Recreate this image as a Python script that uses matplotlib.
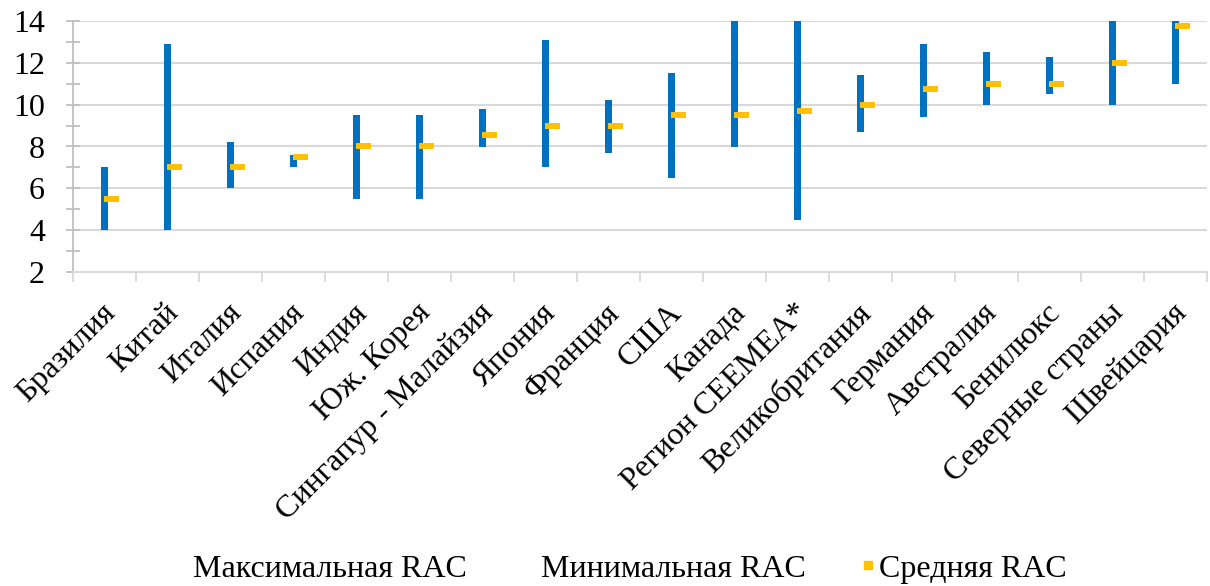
import matplotlib.pyplot as plt
from matplotlib.lines import Line2D
import numpy as np

# data
countries = [
    "Бразилия", "Китай", "Италия", "Испания", "Индия", "Юж. Корея",
    "Сингапур - Малайзия", "Япония", "Франция", "США", "Канада",
    "Регион CEEMEA*", "Великобритания", "Германия", "Австралия",
    "Бенилюкс", "Северные страны", "Швейцария",
]
max_rac = [7.0, 12.9, 8.2, 7.6, 9.5, 9.5, 9.8, 13.1, 10.2, 11.5, 15.0,
           15.0, 11.4, 12.9, 12.5, 12.3, 15.0, 15.0]
min_rac = [4.0, 4.0, 6.0, 7.0, 5.5, 5.5, 8.0, 7.0, 7.7, 6.5, 8.0,
           4.5, 8.7, 9.4, 10.0, 10.5, 10.0, 11.0]
avg_rac = [5.5, 7.0, 7.0, 7.5, 8.0, 8.0, 8.55, 9.0, 9.0, 9.5, 9.5,
           9.7, 10.0, 10.75, 11.0, 11.0, 12.0, 13.75]
legend_labels = ["Максимальная RAC", "Минимальная RAC", "Средняя RAC"]

BLUE = "#0070C0"
YELLOW = "#FFC000"
GRID = "#d9d9d9"
AXIS = "#bfbfbf"

plt.rcParams['font.family'] = ['Liberation Serif', 'DejaVu Serif']


def main():
    fig = plt.figure(figsize=(12.1, 5.86), dpi=100)
    ax = fig.add_axes([0.0603, 0.5358, 0.9372, 0.4284])

    x = np.arange(len(countries))
    lo = np.array(min_rac)
    hi = np.array(max_rac)
    ax.bar(x, hi - lo, bottom=lo, width=0.125, color=BLUE, zorder=3)
    ax.hlines(avg_rac, x - 0.015, x + 0.225, color=YELLOW, lw=4.3, zorder=4)

    ax.set_xlim(-0.5, len(countries) - 0.5)
    ax.set_ylim(2, 14)
    ax.set_yticks(np.arange(2, 15, 2))
    ax.set_yticks(np.arange(3, 14, 2), minor=True)
    ax.grid(True, axis='y', color=GRID, lw=1.5, zorder=0)

    # labels hang a little left of the category centre, as in the original
    ax.set_xticks(x - 0.06)
    ax.set_xticklabels(countries, rotation=45, ha='right',
                       rotation_mode='anchor', fontsize=23)
    ax.set_xticks(np.arange(-0.5, len(countries), 1), minor=True)
    ax.tick_params(axis='x', which='major', length=0, pad=19)
    ax.tick_params(axis='x', which='minor', length=7, width=1.3, color=GRID)
    ax.tick_params(axis='y', which='both', direction='inout', length=9.4,
                   width=1.3, color=AXIS, labelsize=23, pad=15.5)

    for s in ['top', 'right']:
        ax.spines[s].set_visible(False)
    ax.spines['left'].set_color(AXIS)
    ax.spines['left'].set_linewidth(1.3)
    ax.spines['bottom'].set_color(GRID)
    ax.spines['bottom'].set_linewidth(1.5)

    handles = [
        Line2D([], [], linestyle='none'),
        Line2D([], [], linestyle='none'),
        Line2D([], [], linestyle='none', marker='s', markersize=6,
               color=YELLOW),
    ]
    fig.legend(handles, legend_labels, loc='lower center', ncol=3,
               bbox_to_anchor=(0.5128, -0.045), frameon=False, fontsize=23,
               handlelength=0.5, handletextpad=0.1, columnspacing=1.7)

    fig.savefig("out.png", dpi=100)


if "__main__" == __name__:
    main()
